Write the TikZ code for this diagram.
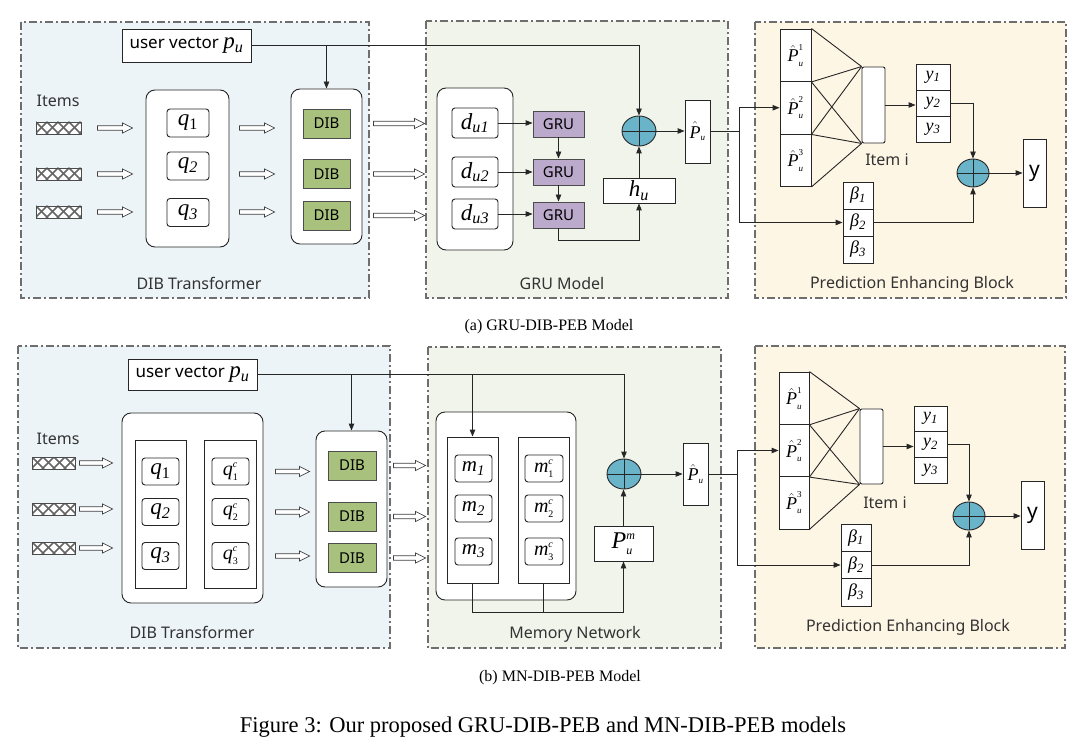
\documentclass[tikz,border=0pt]{standalone}
\usepackage{amsmath}
\usepackage{fontspec}
\setmainfont{Liberation Serif}
\setsansfont{Noto Sans}
\usetikzlibrary{shapes,arrows.meta,positioning,calc}
\definecolor{dibblue}{RGB}{236,244,248}
\definecolor{grugreen}{RGB}{241,244,234}
\definecolor{pebyellow}{RGB}{254,246,229}
\definecolor{dibgreen}{RGB}{168,193,125}
\definecolor{grupurple}{RGB}{188,170,204}
\definecolor{plusblue}{RGB}{106,180,201}
\definecolor{panelgray}{RGB}{110,110,110}

\newcommand{\vsub}[2]{\textit{#1}\textsubscript{#2}}
\newcommand{\phat}[1]{$\hat{\textit{P}}^{\scriptscriptstyle\textrm{#1}}_{\scriptscriptstyle\textit{u}}$}

\tikzset{
  panel/.style={draw=panelgray, line width=1.2pt, dash pattern=on 8pt off 3pt on 2pt off 3pt},
  lbl/.style={font=\sffamily\fontsize{16}{18}\selectfont, text=black!80},
  sz/.style 2 args={minimum width=#1, minimum height=#2},
  whitebox/.style={draw=black!85, line width=0.9pt, fill=white, inner sep=0},
  rbox/.style={whitebox, rounded corners=3, font=\rmfamily\fontsize{23}{25}\selectfont},
  container/.style={whitebox, rounded corners=9},
  cell/.style={whitebox, font=\rmfamily\fontsize{18}{20}\selectfont},
  dibbox/.style={draw=black!70, line width=0.9pt, fill=dibgreen, inner sep=0, sz={47}{29}, font=\sffamily\fontsize{15}{17}\selectfont},
  grubox/.style={draw=black!70, line width=0.9pt, fill=grupurple, inner sep=0, sz={51}{26}, font=\sffamily\fontsize{15}{17}\selectfont},
  plus/.style={ellipse, draw=black!85, line width=0.9pt, fill=plusblue, inner sep=0, sz={34}{30},
    path picture={\draw[black!85, line width=0.9pt] (path picture bounding box.north) -- (path picture bounding box.south)
      (path picture bounding box.west) -- (path picture bounding box.east);}},
  hatchbox/.style={draw=black!70, line width=0.8pt, fill=white, inner sep=0, minimum height=12,
    path picture={\foreach \k in {-1,...,5} {
      \draw[black!60, line width=1.5pt] ($(path picture bounding box.north west)+(\k*11,0)$) -- ++(12,12)
        ($(path picture bounding box.north west)+(\k*11,0)$) -- ++(-12,12);}}},
  fatarrow/.style={draw=black!75, fill=white, line width=0.7pt,
    to path={let \p1=(\tikztostart), \p2=(\tikztotarget) in
      (\x1,\y1+2.3pt) -- (\x2-10pt,\y1+2.3pt) -- (\x2-10pt,\y1+5pt) -- (\x2,\y1)
      -- (\x2-10pt,\y1-5pt) -- (\x2-10pt,\y1-2.3pt) -- (\x1,\y1-2.3pt) -- cycle}},
  fc/.style={draw=black!85, line width=0.9pt},
  conn/.style={fc, -{Triangle[length=7pt,width=5.5pt]}},
  captext/.style={font=\rmfamily\fontsize{16}{19}\selectfont},
  figcaption/.style={font=\rmfamily\fontsize{22.5}{26}\selectfont}
}

\begin{document}
\begin{tikzpicture}[x=1pt, y=-1pt]
  \useasboundingbox (0,0) rectangle (1080,754);

  % ---------- (a) GRU-DIB-PEB ----------
  % panels
  \draw[panel, fill=dibblue] (21,22) rectangle (369,298);
  \draw[panel, fill=grugreen] (426,21) rectangle (728,298);
  \draw[panel, fill=pebyellow] (755,22) rectangle (1066,298);
  \node[lbl] (aLDIB) at (199,283) {DIB Transformer};
  \node[lbl] (aLGRU) at (562,284) {GRU Model};
  \node[lbl] (aLPEB) at (912,284) {Prediction Enhancing Block};

  % DIB transformer
  \node[whitebox, sz={129}{33}, font=\sffamily\fontsize{17}{19}\selectfont] (aUV) at (186.5,45.5)
    {user vector {\rmfamily\fontsize{23}{25}\selectfont\vsub{p}{\textit{u}}}};
  \node[lbl] (aItems) at (58,101) {Items};
  \foreach \i/\y in {1/128,2/174,3/212}
    \node[hatchbox, minimum width=45] (aIt\i) at (58.5,\y) {};
  \node[container, sz={83}{157}] (aQc) at (187.5,168.5) {};
  \node[rbox, sz={42}{28}] (aQ1) at (188,123) {\vsub{q}{1}};
  \node[rbox, sz={42}{28}] (aQ2) at (188,166) {\vsub{q}{\textit{2}}};
  \node[rbox, sz={42}{28}] (aQ3) at (188,212.5) {\vsub{q}{\textit{3}}};
  \node[container, sz={71}{155}] (aDIBc) at (326.5,166.5) {};
  \foreach \i/\y in {1/123.5,2/174,3/215.5}
    \node[dibbox] (aDIB\i) at (326.5,\y) {DIB};

  % GRU model
  \node[container, sz={76}{162}] (aDc) at (475,169) {};
  \foreach \i/\y in {1/123,2/172,3/214}
    \node[rbox, sz={46}{30}] (aD\i) at (475,\y) {\vsub{d}{\textit{u\i}}};
  \foreach \i/\y in {1/124,2/172,3/215}
    \node[grubox] (aG\i) at (558.5,\y) {GRU};
  \node[whitebox, sz={72}{25}, font=\rmfamily\fontsize{23}{25}\selectfont] (aHu) at (639,190.5) {\vsub{h}{\textit{u}}};
  \node[plus] (aPlus) at (639,131) {};
  \node[whitebox, sz={25}{63}, font=\rmfamily\fontsize{18}{20}\selectfont] (aPhat) at (697.5,131.5) {$\hat{\textit{P}}_{\scriptscriptstyle\textit{u}}$};

  \foreach \i in {1,2,3} {
    \draw[fatarrow] ($(aIt\i.east)+(16,0)$) to ($(aQc.west |- aIt\i)+(-13,0)$);
    \draw[fatarrow] ($(aQc.east |- aIt\i)+(10,0)$) to ($(aDIBc.west |- aIt\i)+(-16,0)$);
    \draw[fatarrow] ($(aDIBc.east |- aDIB\i)+(11,0)$) to ($(aDc.west |- aDIB\i)+(-12,0)$);
    \draw[conn] (aD\i.east) -- (aD\i.east -| aG\i.west);
  }
  \draw[conn] (aG1) -- (aG2);
  \draw[conn] (aG2) -- (aG3);
  \draw[conn] (aG3.south) -- ++(0,12) -| (aHu.south);
  \draw[conn] (aHu) -- (aPlus);
  \draw[conn] (aUV.east) -| (aPlus.north);
  \draw[conn] (aDIBc.north |- aUV.east) -- (aDIBc.north);
  \draw[conn] (aPlus.east) -- (aPlus.east -| aPhat.west);

  % prediction enhancing block
  \foreach \i/\y in {1/55.25,2/107.75,3/160.25}
    \node[cell, sz={31}{52.5}] (aP\i) at (795.5,\y) {\phat{\i}};
  \node[whitebox, rounded corners=2, sz={23}{76}] (aItem) at (873.5,105) {};
  \node[lbl] (aItemL) at (887,160) {Item i};
  \foreach \i/\y in {1/77,2/103,3/129}
    \node[cell, sz={34}{26}] (aY\i) at (933,\y) {\vsub{y}{\textit{\i}}};
  \node[plus, sz={32}{28}] (aPlus2) at (973,173) {};
  \node[whitebox, sz={23}{68}, font=\sffamily\fontsize{21}{23}\selectfont] (aY) at (1034.5,173) {y};
  \foreach \i/\y in {1/195.5,2/222.5,3/249.5}
    \node[cell, sz={30}{27}] (aB\i) at (858,\y) {\vsub{β}{\textit{\i}}};
  \foreach \s in {aP1.north east, aP1.south east, aP2.south east}
    \draw[fc] (\s) -- (aItem.north west);
  \foreach \s in {aP1.south east, aP2.south east, aP3.south east}
    \draw[fc] (\s) -- (aItem.south west);
  \coordinate (aSplit) at (739,131.5);
  \draw[fc] (aPhat.east) -- (aSplit);
  \draw[conn] (aSplit) |- (aP2.west);
  \draw[conn] (aSplit) |- (aB2.west);
  \draw[conn] (aItem.east) -- (aItem.east -| aY1.west);
  \draw[conn] (aY2.east) -| (aPlus2.north);
  \draw[conn] (aB2.east) -| (aPlus2.south);
  \draw[conn] (aPlus2.east) -- (aPlus2.east -| aY.west);

  \node[captext] (capA) at (549,327) {(a) GRU-DIB-PEB Model};

  % ---------- (b) MN-DIB-PEB ----------
  % panels
  \draw[panel, fill=dibblue] (18,346) rectangle (390,648);
  \draw[panel, fill=grugreen] (428,347) rectangle (721,648);
  \draw[panel, fill=pebyellow] (755,346) rectangle (1065,648);
  \node[lbl] (bLDIB) at (192,632) {DIB Transformer};
  \node[lbl] (bLMN) at (575,634) {Memory Network};
  \node[lbl] (bLPEB) at (908,627) {Prediction Enhancing Block};

  % DIB transformer
  \node[whitebox, sz={129}{31}, font=\sffamily\fontsize{17}{19}\selectfont] (bUV) at (192.5,374.5)
    {user vector {\rmfamily\fontsize{23}{25}\selectfont\vsub{p}{\textit{u}}}};
  \node[lbl] (bItems) at (58,439) {Items};
  \foreach \i/\y in {1/463,2/509,3/548}
    \node[hatchbox, minimum width=43] (bIt\i) at (53.5,\y) {};
  \node[container, sz={141}{190}] (bQc) at (192.5,508) {};
  \node[whitebox, sz={51}{148}] (bQcol1) at (160.5,514) {};
  \node[whitebox, sz={52}{148}] (bQcol2) at (230,514) {};
  \node[rbox, sz={37}{27}] (bQ1) at (160.5,471.5) {\vsub{q}{1}};
  \node[rbox, sz={37}{27}] (bQ2) at (160.5,512) {\vsub{q}{\textit{2}}};
  \node[rbox, sz={37}{27}] (bQ3) at (160.5,556) {\vsub{q}{\textit{3}}};
  \foreach \i/\y in {1/471.5,2/512,3/556}
    \node[rbox, sz={37}{27}, font=\rmfamily\fontsize{20}{22}\selectfont] (bQC\i) at (230.5,\y) {$\textit{q}^{\scriptscriptstyle\textit{c}}_{\scriptscriptstyle\textrm{\i}}$};
  \node[container, sz={71}{156}] (bDIBc) at (351.5,509) {};
  \foreach \i/\y in {1/465.5,2/516.5,3/558}
    \node[dibbox, sz={48}{29}] (bDIB\i) at (352,\y) {DIB};

  % memory network
  \node[container, sz={140}{188}] (bMc) at (506,506) {};
  \node[whitebox, sz={51}{146}] (bMcol1) at (472.5,510) {};
  \node[whitebox, sz={51}{146}] (bMcol2) at (543.5,510) {};
  \foreach \i/\y in {1/468.5,2/508.5,3/551.5} {
    \node[rbox, sz={37}{27}, font=\rmfamily\fontsize{21}{23}\selectfont] (bM\i) at (473.5,\y) {\vsub{m}{\textit{\i}}};
    \node[rbox, sz={38}{27}, font=\rmfamily\fontsize{20}{22}\selectfont] (bMC\i) at (544,\y) {$\textit{m}^{\scriptscriptstyle\textit{c}}_{\scriptscriptstyle\textrm{\i}}$};
  }
  \node[whitebox, sz={59}{35}, font=\rmfamily\fontsize{24}{26}\selectfont] (bPm) at (623.5,543.5) {$\textit{P}^{\scriptscriptstyle\textit{m}}_{\scriptscriptstyle\textit{u}}$};
  \node[plus] (bPlus) at (624,474) {};
  \node[whitebox, sz={25}{62}, font=\rmfamily\fontsize{18}{20}\selectfont] (bPhat) at (695.5,474) {$\hat{\textit{P}}_{\scriptscriptstyle\textit{u}}$};

  \foreach \i in {1,2,3} {
    \draw[fatarrow] ($(bIt\i.east)+(4,0)$) to ($(bQc.west |- bIt\i)+(-9,0)$);
    \draw[fatarrow] ($(bQc.east |- bQ\i)+(12,0)$) to ($(bDIBc.west |- bQ\i)+(-6,0)$);
    \draw[fatarrow] ($(bDIBc.east |- bDIB\i)+(6,0)$) to ($(bMc.west |- bDIB\i)+(-10,0)$);
  }
  \draw[conn] (bUV.east) -| (bPlus.north);
  \draw[conn] (bDIBc.north |- bUV.east) -- (bDIBc.north);
  \draw[conn] (bMcol1.north |- bUV.east) -- (bMcol1.north);
  \draw[conn] (bMcol1.south) -- ++(0,29) -| (bPm.south);
  \draw[fc] (bMcol2.south) -- ++(0,29);
  \draw[conn] (bPm.north) -- (bPm.north |- bPlus.south);
  \draw[conn] (bPlus.east) -- (bPlus.east -| bPhat.west);

  % prediction enhancing block
  \foreach \i/\y in {1/398.2,2/450.5,3/502.8}
    \node[cell, sz={30}{52.3}] (bP\i) at (794,\y) {\phat{\i}};
  \node[whitebox, rounded corners=2, sz={23}{75}] (bItem) at (871.5,446.5) {};
  \node[lbl] (bItemL) at (885,503) {Item i};
  \foreach \i/\y in {1/418.8,2/444.5,3/470.2}
    \node[cell, sz={33}{25.7}] (bY\i) at (930.5,\y) {\vsub{y}{\textit{\i}}};
  \node[plus, sz={32}{28}] (bPlus2) at (969,516) {};
  \node[whitebox, sz={23}{68}, font=\sffamily\fontsize{21}{23}\selectfont] (bY) at (1032.5,515) {y};
  \foreach \i/\y in {1/537.7,2/565,3/592.3}
    \node[cell, sz={30}{27.3}] (bB\i) at (856,\y) {\vsub{β}{\textit{\i}}};
  \foreach \s in {bP1.north east, bP1.south east, bP2.south east}
    \draw[fc] (\s) -- (bItem.north west);
  \foreach \s in {bP1.south east, bP2.south east, bP3.south east}
    \draw[fc] (\s) -- (bItem.south west);
  \coordinate (bSplit) at (737,474);
  \draw[fc] (bPhat.east) -- (bSplit);
  \draw[conn] (bSplit) |- (bP2.west);
  \draw[conn] (bSplit) |- (bB2.west);
  \draw[conn] (bItem.east) -- (bItem.east -| bY1.west);
  \draw[conn] (bY2.east) -| (bPlus2.north);
  \draw[conn] (bB2.east) -| (bPlus2.south);
  \draw[conn] (bPlus2.east) -- (bPlus2.east -| bY.west);

  \node[captext] (capB) at (560,678) {(b) MN-DIB-PEB Model};
  \node[figcaption] (capFig) at (543,727) {Figure 3: Our proposed GRU-DIB-PEB and MN-DIB-PEB models};
\end{tikzpicture}
\end{document}
